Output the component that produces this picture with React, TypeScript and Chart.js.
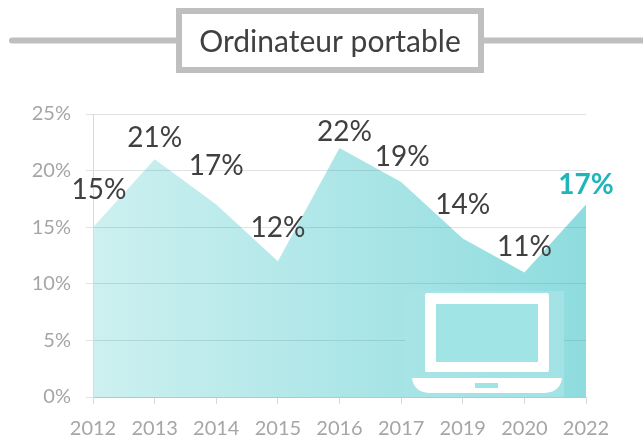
import React, { useEffect, useRef } from "react";
import { Chart, registerables } from "chart.js";

Chart.register(...registerables);

const years = ["2012", "2013", "2014", "2015", "2016", "2017", "2019", "2020", "2022"];
const shares = [15, 21, 17, 12, 22, 19, 14, 11, 17];
const yTicks = [0, 5, 10, 15, 20, 25];
const labelDx = [6, 0, 0, 0, 5, 1, 0, 0, 0];
const labelDy = [-37, -21, -39, -33, -16, -25, -34, -26, -20];
const titleText = "Ordinateur portable";
const FONT = "Lato, Carlito, 'Open Sans', sans-serif";

const gradientFor = (chart: any) => {
  const a = chart.chartArea;
  const g = chart.ctx.createLinearGradient(a.left, 0, a.right, 0);
  g.addColorStop(0, "#cdf0f0");
  g.addColorStop(1, "#8edcdf");
  return g;
};

const decor = {
  id: "decor",
  beforeDraw(chart: any) {
    const c = chart.ctx;
    c.save();
    c.strokeStyle = "#bfbfbf";
    c.lineWidth = 6;
    c.lineCap = "round";
    c.beginPath();
    c.moveTo(12, 40.5);
    c.lineTo(176, 40.5);
    c.moveTo(484, 40.5);
    c.lineTo(650, 40.5);
    c.stroke();
    c.strokeRect(179, 11, 302, 59);
    c.restore();
  },
  afterDraw(chart: any) {
    const c = chart.ctx;
    c.save();
    c.fillStyle = gradientFor(chart);
    c.fillRect(405, 291, 159, 106);
    const veil = c.createLinearGradient(405, 0, 564, 0);
    veil.addColorStop(0, "rgba(255,255,255,0.03)");
    veil.addColorStop(1, "rgba(255,255,255,0.16)");
    c.fillStyle = veil;
    c.fillRect(405, 291, 159, 106);
    c.fillStyle = "#ffffff";
    c.beginPath();
    c.roundRect(425, 293, 124, 79, 2);
    c.fill();
    c.beginPath();
    c.moveTo(412, 378);
    c.lineTo(562, 378);
    c.quadraticCurveTo(560, 393, 543, 393);
    c.lineTo(431, 393);
    c.quadraticCurveTo(414, 393, 412, 378);
    c.fill();
    c.fillStyle = "#a0e4e6";
    c.fillRect(436, 304, 102, 58);
    c.fillRect(475, 383, 23, 5);

    const meta = chart.getDatasetMeta(0);
    c.textAlign = "center";
    c.textBaseline = "middle";
    meta.data.forEach((pt: any, i: number) => {
      const last = i === shares.length - 1;
      c.font = `${last ? "bold " : ""}28px ${FONT}`;
      c.fillStyle = last ? "#1fb5bb" : "#404040";
      c.fillText(`${shares[i]}%`, pt.x + labelDx[i], pt.y + labelDy[i]);
    });
    c.restore();
  },
};

export default function App() {
  const ref = useRef<HTMLCanvasElement>(null);
  useEffect(() => {
    document.body.style.margin = "0";
    const chart = new Chart(ref.current!, {
      type: "line",
      data: {
        labels: years,
        datasets: [
          {
            data: shares,
            fill: "origin",
            borderWidth: 0,
            pointRadius: 0,
            tension: 0,
            backgroundColor: (ctx: any) => (ctx.chart.chartArea ? gradientFor(ctx.chart) : "#b0e6e8"),
          },
        ],
      },
      options: {
        responsive: false,
        animation: false,
        layout: { padding: { left: 17, right: 0, top: 0, bottom: 0 } },
        plugins: {
          legend: { display: false },
          tooltip: { enabled: false },
          title: {
            display: true,
            text: titleText,
            color: "#404040",
            font: { family: FONT, size: 30, weight: "normal" },
            padding: { top: 24, bottom: 54 },
          },
        },
        scales: {
          x: {
            offset: false,
            afterFit: (s: any) => {
              s.height = 40;
            },
            border: { color: "#d9d9d9", width: 1 },
            grid: { display: true, drawOnChartArea: false, color: "#d9d9d9", tickLength: 7 },
            ticks: {
              color: "#a6a6a6",
              font: { family: FONT, size: 20 },
              padding: 13,
              maxRotation: 0,
              autoSkip: false,
            },
          },
          y: {
            min: 0,
            max: 25,
            afterFit: (s: any) => {
              s.width = 76;
            },
            afterBuildTicks: (s: any) => {
              s.ticks = yTicks.map((value) => ({ value }));
            },
            border: { color: "#d9d9d9", width: 1, z: 2 },
            grid: { color: "rgba(90,120,125,0.2)", tickLength: 7, z: 1 },
            ticks: {
              color: "#a6a6a6",
              font: { family: FONT, size: 20 },
              padding: 15,
              callback: (v: any) => `${v}%`,
            },
          },
          spacer: {
            position: "right",
            min: 0,
            max: 25,
            afterFit: (s: any) => {
              s.width = 57;
            },
            border: { display: false },
            grid: { display: false },
            ticks: { display: false },
          },
        },
      },
      plugins: [decor],
    } as any);
    return () => chart.destroy();
  }, []);
  return <canvas ref={ref} width={643} height={437} style={{ display: "block" }} />;
}
